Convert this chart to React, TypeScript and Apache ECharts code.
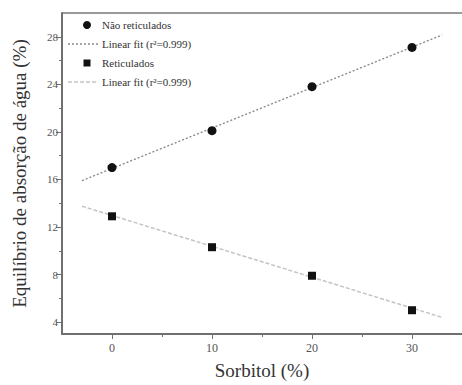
import React, { useEffect, useRef } from "react";
import * as echarts from "echarts";

const sorbitol = [0, 10, 20, 30];
const naoReticulados = [17.0, 20.1, 23.8, 27.1];
const reticulados = [12.9, 10.3, 7.9, 5.0];
const fitX = [-3, 33];
const fitNao = [15.9, 28.15];
const fitRet = [13.75, 4.4];
const xMajorTicks = [0, 10, 20, 30];
const xMinorTicks = [5, 15, 25];
const yMajorTicks = [4, 8, 12, 16, 20, 24, 28];
const yMinorTicks = [6, 10, 14, 18, 22, 26];
const legendLabels = ["Não reticulados", "Linear fit (r²=0.999)", "Reticulados", "Linear fit (r²=0.999)"];

const FONT = "Times New Roman, Liberation Serif, serif";
const AXIS = "#707070";

export default function App() {
  const ref = useRef<HTMLDivElement>(null);
  useEffect(() => {
    if (!ref.current) return;
    const chart = echarts.init(ref.current, undefined, { renderer: "svg" });
    const pair = (xs: number[], ys: number[]) => xs.map((x, i) => [x, ys[i]]);
    const baseX = { type: "value", min: -5, max: 35, gridIndex: 0 };
    const baseY = { type: "value", min: 3, max: 30, gridIndex: 0 };
    const legendY = [25, 44, 63, 82];
    chart.setOption({
      animation: false,
      backgroundColor: "#fff",
      textStyle: { fontFamily: FONT },
      grid: { left: 62, top: 13, right: -2, bottom: 50, containLabel: false },
      xAxis: [
        {
          ...baseX,
          name: "Sorbitol (%)",
          nameLocation: "middle",
          nameGap: 27,
          nameTextStyle: { fontFamily: FONT, fontSize: 19, color: "#333" },
          axisLine: { onZero: false, lineStyle: { color: AXIS, width: 2 } },
          axisTick: { customValues: xMajorTicks, length: 5, lineStyle: { color: AXIS } },
          axisLabel: { customValues: xMajorTicks, fontFamily: FONT, fontSize: 12, color: "#555", margin: 8 },
          splitLine: { show: false },
        },
        {
          ...baseX,
          position: "bottom",
          axisLine: { show: false, onZero: false },
          axisTick: { customValues: xMinorTicks, length: 3, lineStyle: { color: AXIS } },
          axisLabel: { show: false },
          splitLine: { show: false },
        },
      ],
      yAxis: [
        {
          ...baseY,
          name: "Equilíbrio de absorção de água (%)",
          nameLocation: "middle",
          nameGap: 33,
          nameTextStyle: { fontFamily: FONT, fontSize: 19, color: "#333" },
          axisLine: { show: true, onZero: false, lineStyle: { color: AXIS, width: 2 } },
          axisTick: { show: true, customValues: yMajorTicks, length: 6, lineStyle: { color: AXIS } },
          axisLabel: { customValues: yMajorTicks, fontFamily: FONT, fontSize: 11, color: "#555", margin: 4 },
          splitLine: { show: false },
        },
        {
          ...baseY,
          position: "left",
          axisLine: { show: false, onZero: false },
          axisTick: { show: true, customValues: yMinorTicks, length: 3, lineStyle: { color: AXIS } },
          axisLabel: { show: false },
          splitLine: { show: false },
        },
      ],
      series: [
        {
          type: "line",
          data: pair(fitX, fitNao),
          showSymbol: false,
          lineStyle: { color: "#8a8a8a", width: 1.5, type: [2, 2] },
          z: 1,
        },
        {
          type: "line",
          data: pair(fitX, fitRet),
          showSymbol: false,
          lineStyle: { color: "#c4c4c4", width: 1.5, type: [4, 2] },
          z: 1,
        },
        {
          type: "scatter",
          data: pair(sorbitol, naoReticulados),
          symbol: "circle",
          symbolSize: 9,
          itemStyle: { color: "#111", opacity: 1 },
          z: 3,
        },
        {
          type: "scatter",
          data: pair(sorbitol, reticulados),
          symbol: "rect",
          symbolSize: 8,
          itemStyle: { color: "#111", opacity: 1 },
          z: 3,
        },
      ],
      graphic: [
        { type: "line", shape: { x1: 62, y1: 13, x2: 462, y2: 13 }, style: { stroke: "#9a9a9a", lineWidth: 2 } },
        { type: "circle", shape: { cx: 87, cy: legendY[0], r: 4 }, style: { fill: "#111" } },
        { type: "line", shape: { x1: 68, y1: legendY[1], x2: 98, y2: legendY[1] }, style: { stroke: "#8a8a8a", lineWidth: 1.5, lineDash: [2, 2] } },
        { type: "rect", shape: { x: 83.5, y: legendY[2] - 3.5, width: 7, height: 7 }, style: { fill: "#111" } },
        { type: "line", shape: { x1: 68, y1: legendY[3], x2: 98, y2: legendY[3] }, style: { stroke: "#c4c4c4", lineWidth: 1.5, lineDash: [4, 2] } },
        ...legendLabels.map((t, i) => ({
          type: "text",
          x: 102,
          y: legendY[i],
          style: { text: t, fontFamily: FONT, fontSize: 11, fill: "#333", verticalAlign: "middle", align: "left" },
        })),
      ],
    });
    return () => chart.dispose();
  }, []);
  return <div ref={ref} style={{ width: 462, height: 385, position: "absolute", left: 0, top: 0 }} />;
}
